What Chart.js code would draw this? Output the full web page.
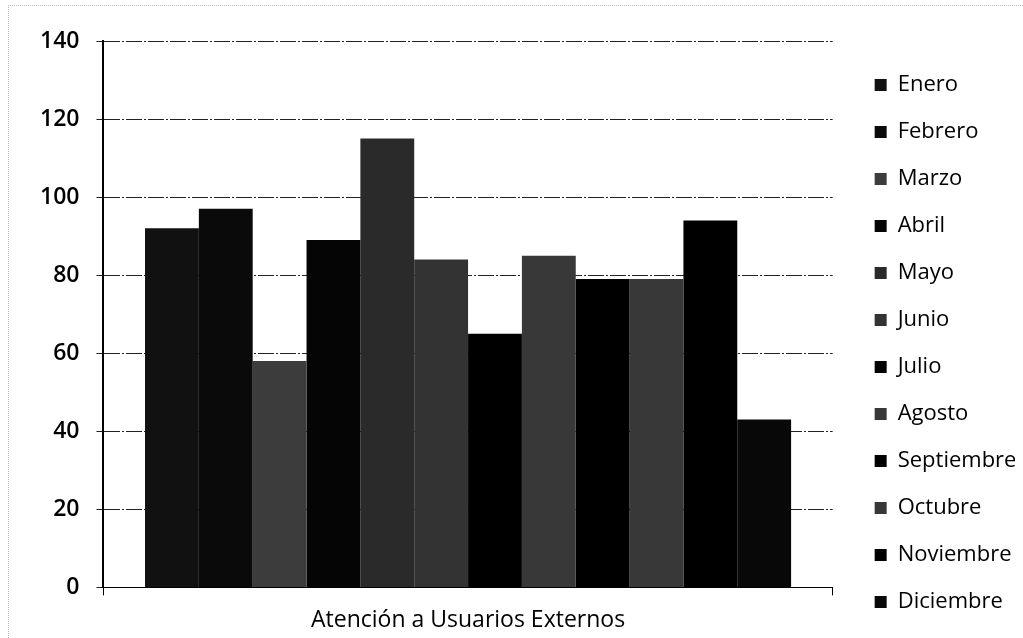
<!DOCTYPE html>
<html>
<head>
<meta charset="utf-8">
<script src="https://cdn.jsdelivr.net/npm/chart.js@4/dist/chart.umd.min.js"></script>
<style>
  html, body { margin: 0; padding: 0; background: #fff; }
  #wrap { position: relative; width: 1023px; height: 638px; }
  #frame { position: absolute; left: 8px; top: 5px; width: 1100px; height: 700px;
           border-left: 1px dotted #bbb; border-top: 1px dotted #bbb; }
</style>
</head>
<body>
<div id="wrap">
  <div id="frame"></div>
  <canvas id="myChart" width="1023" height="638"></canvas>
</div>
<script>
const categories = ['Atención a Usuarios Externos'];
const months = ['Enero', 'Febrero', 'Marzo', 'Abril', 'Mayo', 'Junio', 'Julio',
                'Agosto', 'Septiembre', 'Octubre', 'Noviembre', 'Diciembre'];
const values = [92, 97, 58, 89, 115, 84, 65, 85, 79, 79, 94, 43];
const colors = ['#111111', '#0a0a0a', '#3c3c3c', '#050505', '#2a2a2a', '#333333',
                '#000000', '#383838', '#000000', '#383838', '#000000', '#080808'];

const ctx = document.getElementById('myChart').getContext('2d');

const myChart = new Chart(ctx, {
    type: 'bar',
    data: {
        labels: categories,
        datasets: months.map((m, i) => ({
            label: m,
            data: [values[i]],
            backgroundColor: colors[i],
            borderWidth: 0
        }))
    },
    options: {
        responsive: false,
        animation: false,
        layout: { padding: { left: 23, top: 41, right: 8, bottom: -8 } },
        datasets: {
            bar: { barPercentage: 1, categoryPercentage: 0.886 }
        },
        plugins: {
            tooltip: { enabled: false },
            legend: {
                position: 'right',
                labels: {
                    color: '#000',
                    font: { family: 'Open Sans', size: 22 },
                    boxWidth: 12,
                    boxHeight: 12,
                    padding: 25
                }
            }
        },
        scales: {
            x: {
                grid: { drawOnChartArea: false, drawTicks: true, tickLength: 8, color: '#000' },
                border: { color: '#000' },
                ticks: { color: '#000', padding: 11.5, font: { family: 'Open Sans', size: 23 } }
            },
            y: {
                min: 0,
                max: 140,
                ticks: { stepSize: 20, color: '#000', padding: 17,
                         font: { family: 'Open Sans', size: 23, weight: '600' } },
                grid: { color: '#222', tickLength: 7, lineWidth: 1 },
                border: { color: '#000', width: 2, dash: [16, 2, 2, 2] }
            },
            // empty scale used only as a gap between plot and legend
            gap: {
                position: 'right',
                ticks: { display: false },
                grid: { display: false },
                border: { display: false },
                afterFit: (scale) => { scale.width = 17; }
            }
        }
    }
});
</script>
</body>
</html>
